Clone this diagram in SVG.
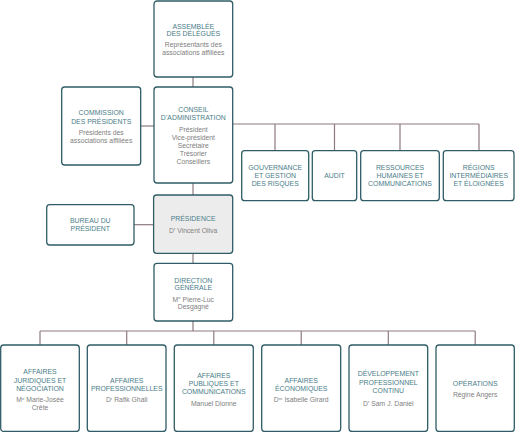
<svg xmlns="http://www.w3.org/2000/svg" width="515" height="432" viewBox="0 0 515 432">
<style>
.box{fill:#fff;stroke:#2f5c66;stroke-width:1.3}
.hl{fill:#ececec}
.t{font-family:"Liberation Sans",Arial,sans-serif;font-size:6.9px;fill:#4a7d88;text-anchor:middle}
.s{font-family:"Liberation Sans",Arial,sans-serif;font-size:6.8px;fill:#808080;text-anchor:middle}
.c{fill:none;stroke:#8d7a7f;stroke-width:1.2}
</style>
<g id="connectors">
<path class="c" d="M193 77V87"/>
<path class="c" d="M140.7 126H154"/>
<path class="c" d="M232.7 124H479M275 124V150.7M334.5 124V150.7M400 124V150.7M479 124V150.7"/>
<path class="c" d="M193 183V195"/>
<path class="c" d="M134 224.7H153.3"/>
<path class="c" d="M193 253.3V263.3"/>
<path class="c" d="M193 321V331M40 331H475.2M40 331V345M126.7 331V345M213.8 331V345M301.2 331V345M388.3 331V345M475.2 331V345"/>
</g>
<g id="assemblee">
<rect class="box" x="154" y="1" width="78.7" height="76" rx="3"/>
<text class="t" x="193.3" y="28.5">ASSEMBLÉE</text>
<text class="t" x="193.3" y="36">DES DÉLÉGUÉS</text>
<text class="s" x="193.3" y="47">Représentants des</text>
<text class="s" x="193.3" y="54.5">associations affiliées</text>
</g>
<g id="commission">
<rect class="box" x="61.7" y="87" width="79" height="78" rx="3"/>
<text class="t" x="101.2" y="115">COMMISSION</text>
<text class="t" x="101.2" y="123.5">DES PRÉSIDENTS</text>
<text class="s" x="101.2" y="134.5">Présidents des</text>
<text class="s" x="101.2" y="143.3">associations affiliées</text>
</g>
<g id="conseil">
<rect class="box" x="154" y="87" width="78.7" height="96" rx="3"/>
<text class="t" x="193.3" y="111.8">CONSEIL</text>
<text class="t" x="193.3" y="119.8">D’ADMINISTRATION</text>
<text class="s" x="193.3" y="131.8">Président</text>
<text class="s" x="193.3" y="139.8">Vice-président</text>
<text class="s" x="193.3" y="147.8">Secrétaire</text>
<text class="s" x="193.3" y="155.8">Trésorier</text>
<text class="s" x="193.3" y="163.8">Conseillers</text>
</g>
<g id="gouvernance">
<rect class="box" x="241.7" y="150.7" width="67" height="50" rx="3"/>
<text class="t" x="275.2" y="169.8">GOUVERNANCE</text>
<text class="t" x="275.2" y="177.8">ET GESTION</text>
<text class="t" x="275.2" y="185.8">DES RISQUES</text>
</g>
<g id="audit">
<rect class="box" x="312.3" y="150.7" width="44.4" height="50" rx="3"/>
<text class="t" x="334.5" y="177.8">AUDIT</text>
</g>
<g id="rh">
<rect class="box" x="360.7" y="150.7" width="78.6" height="50" rx="3"/>
<text class="t" x="400" y="169.8">RESSOURCES</text>
<text class="t" x="400" y="177.8">HUMAINES ET</text>
<text class="t" x="400" y="185.8">COMMUNICATIONS</text>
</g>
<g id="regions">
<rect class="box" x="443.3" y="150.7" width="70.7" height="50" rx="3"/>
<text class="t" x="478.7" y="169.8">RÉGIONS</text>
<text class="t" x="478.7" y="177.8">INTERMÉDIAIRES</text>
<text class="t" x="478.7" y="185.8">ET ÉLOIGNÉES</text>
</g>
<g id="bureau">
<rect class="box" x="46.7" y="204.7" width="87.3" height="40.3" rx="3"/>
<text class="t" x="90.3" y="223">BUREAU DU</text>
<text class="t" x="90.3" y="231">PRÉSIDENT</text>
</g>
<g id="presidence">
<rect class="box hl" x="153.6" y="195" width="79.1" height="58.3" rx="3"/>
<text class="t" x="193.1" y="221">PRÉSIDENCE</text>
<text class="s" x="193.1" y="232.5">D<tspan font-size="4.4" dy="-2.4">r</tspan><tspan dy="2.4"> Vincent Oliva</tspan></text>
</g>
<g id="direction">
<rect class="box" x="154" y="263.3" width="78.7" height="57.7" rx="3"/>
<text class="t" x="193.3" y="282.5">DIRECTION</text>
<text class="t" x="193.3" y="290">GÉNÉRALE</text>
<text class="s" x="193.3" y="301.5">M<tspan font-size="4.4" dy="-2.4">e</tspan><tspan dy="2.4"> Pierre-Luc</tspan></text>
<text class="s" x="193.3" y="309">Desgagné</text>
</g>
<g id="juridiques">
<rect class="box" x="0.7" y="345" width="78.6" height="86.5" rx="3"/>
<text class="t" x="40" y="374">AFFAIRES</text>
<text class="t" x="40" y="382.5">JURIDIQUES ET</text>
<text class="t" x="40" y="391">NÉGOCIATION</text>
<text class="s" x="40" y="402">M<tspan font-size="4.4" dy="-2.4">e</tspan><tspan dy="2.4"> Marie-Josée</tspan></text>
<text class="s" x="40" y="410">Crête</text>
</g>
<g id="professionnelles">
<rect class="box" x="87.3" y="345" width="78.7" height="86.5" rx="3"/>
<text class="t" x="126.7" y="382.5">AFFAIRES</text>
<text class="t" x="126.7" y="391">PROFESSIONNELLES</text>
<text class="s" x="126.7" y="402">D<tspan font-size="4.4" dy="-2.4">r</tspan><tspan dy="2.4"> Rafik Ghali</tspan></text>
</g>
<g id="publiques">
<rect class="box" x="174.3" y="345" width="79" height="86.5" rx="3"/>
<text class="t" x="213.8" y="378">AFFAIRES</text>
<text class="t" x="213.8" y="386">PUBLIQUES ET</text>
<text class="t" x="213.8" y="394">COMMUNICATIONS</text>
<text class="s" x="213.8" y="405.5">Manuel Dionne</text>
</g>
<g id="economiques">
<rect class="box" x="261.7" y="345" width="79" height="86.5" rx="3"/>
<text class="t" x="301.2" y="382.5">AFFAIRES</text>
<text class="t" x="301.2" y="391">ÉCONOMIQUES</text>
<text class="s" x="301.2" y="402">D<tspan font-size="4.4" dy="-2.4">re</tspan><tspan dy="2.4"> Isabelle Girard</tspan></text>
</g>
<g id="developpement">
<rect class="box" x="349" y="345" width="78.7" height="86.5" rx="3"/>
<text class="t" x="388.3" y="376">DÉVELOPPEMENT</text>
<text class="t" x="388.3" y="384.5">PROFESSIONNEL</text>
<text class="t" x="388.3" y="393">CONTINU</text>
<text class="s" x="388.3" y="405.5">D<tspan font-size="4.4" dy="-2.4">r</tspan><tspan dy="2.4"> Sam J. Daniel</tspan></text>
</g>
<g id="operations">
<rect class="box" x="436" y="345" width="78.3" height="86.5" rx="3"/>
<text class="t" x="475.2" y="385.8">OPÉRATIONS</text>
<text class="s" x="475.2" y="396.5">Régine Angers</text>
</g>
</svg>
